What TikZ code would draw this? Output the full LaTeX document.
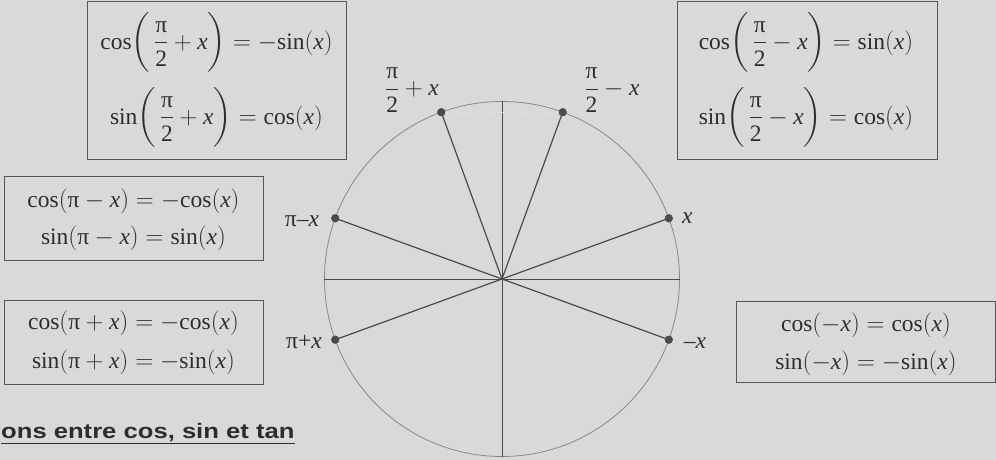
\documentclass[tikz,border=0pt]{standalone}
\usepackage{amsmath}
\usepackage{graphicx}
\usepackage{fontspec}
\setmainfont{Liberation Serif}
\newfontfamily\labelsans{Liberation Sans}
\usetikzlibrary{calc}
\definecolor{bg}{RGB}{217,217,217}
\definecolor{ink}{RGB}{45,45,45}
\definecolor{boxline}{RGB}{85,85,85}
\definecolor{circcol}{RGB}{135,135,135}
\definecolor{spokecol}{RGB}{75,75,75}
\definecolor{ghost}{RGB}{226,226,226}
\newcommand\PI{\text{π}}
\newcommand\X{\mathit{x}}
\newcommand\TW{\text{2}}
\newcommand\fcos{\text{cos}}
\newcommand\fsin{\text{sin}}
\newcommand\PF[1]{{\biggl(\,\dfrac{\PI}{\TW}#1\X\biggr)}}
\begin{document}
\begin{tikzpicture}[x=1pt,y=-1pt,
  font=\fontsize{23.5}{27}\selectfont, text=ink,
  formbox/.style={draw=boxline, line width=1pt, inner sep=0pt},
  eq/.style={inner sep=0pt, anchor=center},
  bigeq/.style={inner sep=0pt, anchor=base},
  spoke/.style={draw=spokecol, line width=1.2pt},
  axisline/.style={draw=spokecol, line width=0.8pt},
  ghostline/.style={draw=ghost, line width=1pt, dash pattern=on 5pt off 6pt},
  dotnode/.style={circle, fill=spokecol, inner sep=0pt, minimum size=8pt},
  anglabel/.style={inner sep=0pt, anchor=center}]
\useasboundingbox[fill=bg] (0,0) rectangle (996,460);

% formula boxes
\node[formbox, minimum width=259pt, minimum height=157pt] (b1) at (216.5,80.5) {};
\node[formbox, minimum width=260pt, minimum height=157pt] (b2) at (807,80.5) {};
\node[formbox, minimum width=259pt, minimum height=84pt] (b3) at (133.5,218) {};
\node[formbox, minimum width=259pt, minimum height=84pt] (b4) at (133.5,342) {};
\node[formbox, minimum width=259pt, minimum height=81pt] (b5) at (865.5,341.5) {};

\node[bigeq] (b1a) at (216.5,49) {\smash{$\fcos\PF{+}=-\fsin(\X)$}};
\node[bigeq] (b1b) at (216.5,124) {\smash{$\fsin\PF{+}=\fcos(\X)$}};
\node[bigeq] (b2a) at (806,49) {\smash{$\fcos\PF{-}=\fsin(\X)$}};
\node[bigeq] (b2b) at (806,124) {\smash{$\fsin\PF{-}=\fcos(\X)$}};
\node[eq] (b3a) at (133.5,201) {$\fcos(\PI-\X)=-\fcos(\X)$};
\node[eq] (b3b) at (133.5,238) {$\fsin(\PI-\X)=\fsin(\X)$};
\node[eq] (b4a) at (133.5,323) {$\fcos(\PI+\X)=-\fcos(\X)$};
\node[eq] (b4b) at (133.5,362) {$\fsin(\PI+\X)=-\fsin(\X)$};
\node[eq] (b5a) at (866,325) {$\fcos(-\X)=\fcos(\X)$};
\node[eq] (b5b) at (866,363) {$\fsin(-\X)=-\fsin(\X)$};

% trigonometric circle
\coordinate (O) at (502,279);
\node[circle, draw=circcol, line width=0.8pt, minimum size=355pt, inner sep=0pt] (unit) at (O) {};
\draw[axisline] (unit.west) -- (unit.east);
\draw[axisline] (unit.north) -- (unit.south);

\node[dotnode] (p1) at ($(O)+(20:177.5pt)$) {};
\node[dotnode] (p2) at ($(O)+(70:177.5pt)$) {};
\node[dotnode] (p3) at ($(O)+(110:177.5pt)$) {};
\node[dotnode] (p4) at ($(O)+(160:177.5pt)$) {};
\node[dotnode] (p5) at ($(O)+(200:177.5pt)$) {};
\node[dotnode] (p6) at ($(O)+(340:177.5pt)$) {};

\draw[ghostline] (p3) -- (p2);
\draw[ghostline] (p4) -- (p1);
\draw[ghostline] (p5) -- (p6);

\draw[spoke] (p1.center) -- (p5.center);
\draw[spoke] (p4.center) -- (p6.center);
\draw[spoke] (O) -- (p2.center);
\draw[spoke] (O) -- (p3.center);
\foreach \p in {p1,p2,p3,p4,p5,p6} \node[dotnode] at (\p) {};

\node[anglabel, anchor=west] (l1) at (682,218) {\textit{x}};
\node[anglabel] (l2) at (612,90) {$\dfrac{\PI}{\TW}-\X$};
\node[anglabel] (l3) at (412,90) {$\dfrac{\PI}{\TW}+\X$};
\node[anglabel] (l4) at (302,221) {π–\textit{x}};
\node[anglabel] (l5) at (304,342) {π+\textit{x}};
\node[anglabel] (l6) at (695,343) {–\textit{x}};

% cropped heading
\node[inner sep=0pt, anchor=base west, text=ink,
      font=\labelsans\bfseries\fontsize{21}{25}\selectfont] (title) at (1,438)
      {\scalebox{1.22}[1]{ons entre cos, sin et tan}};
\draw[draw=ink, line width=1.6pt] ($(title.base west)+(0,5.5)$) -- ($(title.base east)+(0,5.5)$);
\end{tikzpicture}
\end{document}
